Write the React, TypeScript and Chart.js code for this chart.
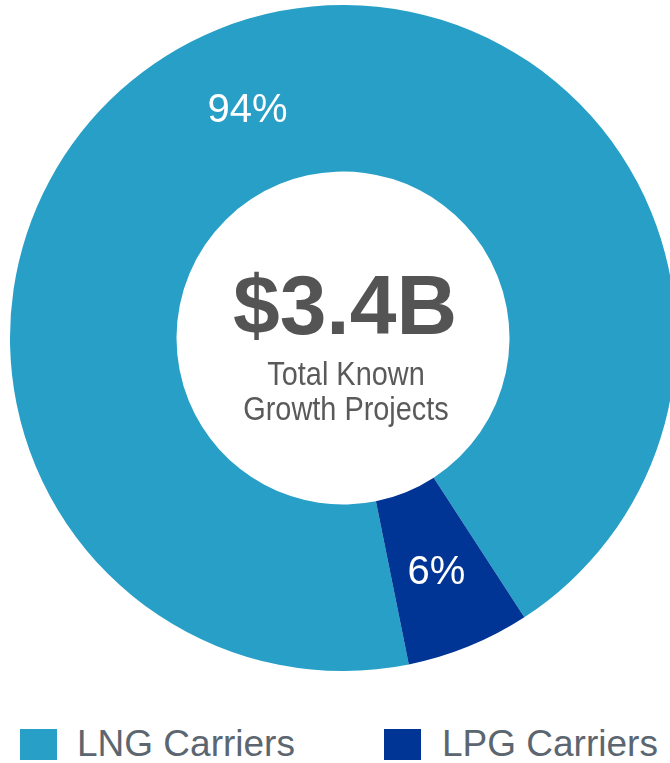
import React, { useEffect, useRef } from "react";
import { Chart, registerables } from "chart.js";

Chart.register(...registerables);

const categories = ["LNG Carriers", "LPG Carriers"];
const shares = [94, 6];
const colors = ["#289fc7", "#003595"];
const percentLabels = ["94%", "6%"];
const centerTitle = "$3.4B";
const centerLines = ["Total Known", "Growth Projects"];

const FONT = "'Liberation Sans', Arial, Helvetica, sans-serif";

const labelPlugin = {
  id: "sliceLabels",
  afterDatasetsDraw(chart: any) {
    const ctx = chart.ctx;
    const meta = chart.getDatasetMeta(0);
    ctx.save();
    ctx.fillStyle = "#ffffff";
    ctx.font = `40px ${FONT}`;
    ctx.textAlign = "center";
    ctx.textBaseline = "middle";
    meta.data.forEach((arc: any, i: number) => {
      const p = arc.getCenterPoint();
      ctx.fillText(percentLabels[i], p.x - 1, p.y + 4);
    });
    // center text
    const first = meta.data[0];
    const cx = first.x;
    const cy = first.y;
    ctx.fillStyle = "#545454";
    ctx.textBaseline = "alphabetic";
    ctx.font = `bold 84px ${FONT}`;
    ctx.fillText(centerTitle, cx + 2, cy - 4);
    ctx.fillStyle = "#5a5a5a";
    ctx.font = `34px ${FONT}`;
    const bases = [cy + 47, cy + 82];
    centerLines.forEach((t, i) => {
      ctx.save();
      ctx.translate(cx + 3, bases[i]);
      ctx.scale(0.85, 1);
      ctx.fillText(t, 0, 0);
      ctx.restore();
    });
    ctx.restore();
  },
};

export default function App() {
  const ref = useRef<HTMLCanvasElement | null>(null);
  useEffect(() => {
    if (!ref.current) return;
    const chart = new Chart(ref.current, {
      type: "doughnut",
      data: {
        labels: categories,
        datasets: [
          {
            data: shares,
            backgroundColor: colors,
            borderWidth: 0,
          },
        ],
      },
      options: {
        animation: false,
        responsive: true,
        maintainAspectRatio: false,
        cutout: "50%",
        rotation: 168.6,
        layout: { padding: 0 },
        plugins: {
          legend: { display: false },
          tooltip: { enabled: false },
        },
      },
      plugins: [labelPlugin],
    });
    return () => chart.destroy();
  }, []);

  const legendPos = [
    { box: 20, text: 77 },
    { box: 384, text: 442 },
  ];

  return (
    <div
      style={{
        position: "fixed",
        left: 0,
        top: 0,
        width: 670,
        height: 763,
        overflow: "hidden",
        background: "#ffffff",
      }}
    >
      <div style={{ position: "absolute", left: 0, top: 5, width: 686, height: 666 }}>
        <canvas ref={ref} />
      </div>
      {categories.map((c, i) => (
        <React.Fragment key={c}>
          <div
            style={{
              position: "absolute",
              left: legendPos[i].box,
              top: 729,
              width: 37,
              height: 31,
              background: colors[i],
            }}
          />
          <div
            style={{
              position: "absolute",
              left: legendPos[i].text,
              top: 725,
              fontFamily: FONT,
              fontSize: 37,
              lineHeight: "37px",
              color: "#5b6670",
              whiteSpace: "nowrap",
            }}
          >
            {c}
          </div>
        </React.Fragment>
      ))}
    </div>
  );
}
